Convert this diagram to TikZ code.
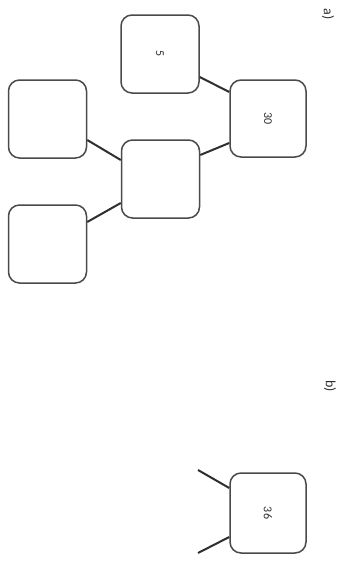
\documentclass[tikz,border=0pt]{standalone}
\usepackage{fontspec}
\setmainfont{Carlito}
\usetikzlibrary{calc}
\definecolor{boxgray}{HTML}{4A4A4A}
\definecolor{lineg}{HTML}{2E2E2E}
\begin{document}
\begin{tikzpicture}[x=1pt,y=-1pt,
  box/.style={draw=boxgray, line width=1.5pt, rounded corners=11pt, minimum width=78pt, minimum height=78pt, inner sep=0pt, rotate=-90, font=\fontsize{12}{13}\selectfont, text=lineg},
  conn/.style={draw=lineg, line width=2pt},
  lbl/.style={rotate=-90, font=\fontsize{14}{15}\selectfont, text=lineg}]
\useasboundingbox (0,0) rectangle (344,562);
\node[box] (n5) at (160,54) {5};
\node[box, minimum width=77pt, minimum height=76pt] (n30) at (268,118.5) {30};
\node[box] (nc) at (160.5,179) {};
\node[box] (ntl) at (47.5,119) {};
\node[box] (nbl) at (47.5,244) {};
\node[box, minimum width=80pt, minimum height=76pt] (n36) at (268,513) {36};
\node[lbl] (la) at (328,14) {a)};
\node[lbl] (lb) at (330,386) {b)};
\coordinate (e1) at (198,470);
\coordinate (e2) at (198,553);
\draw[conn] ($(n5.north)+(0,23)$) -- ($(n30.south)+(0,-26.5)$);
\draw[conn] ($(n30.south)+(0,24.5)$) -- ($(nc.north)+(0,-24)$);
\draw[conn] ($(nc.south)+(0,-19)$) -- ($(ntl.north)+(0,21)$);
\draw[conn] ($(nc.south)+(0,24)$) -- ($(nbl.north)+(0,-22)$);
\draw[conn] ($(n36.south)+(0,-25)$) -- (e1);
\draw[conn] ($(n36.south)+(0,24)$) -- (e2);
\end{tikzpicture}
\end{document}
